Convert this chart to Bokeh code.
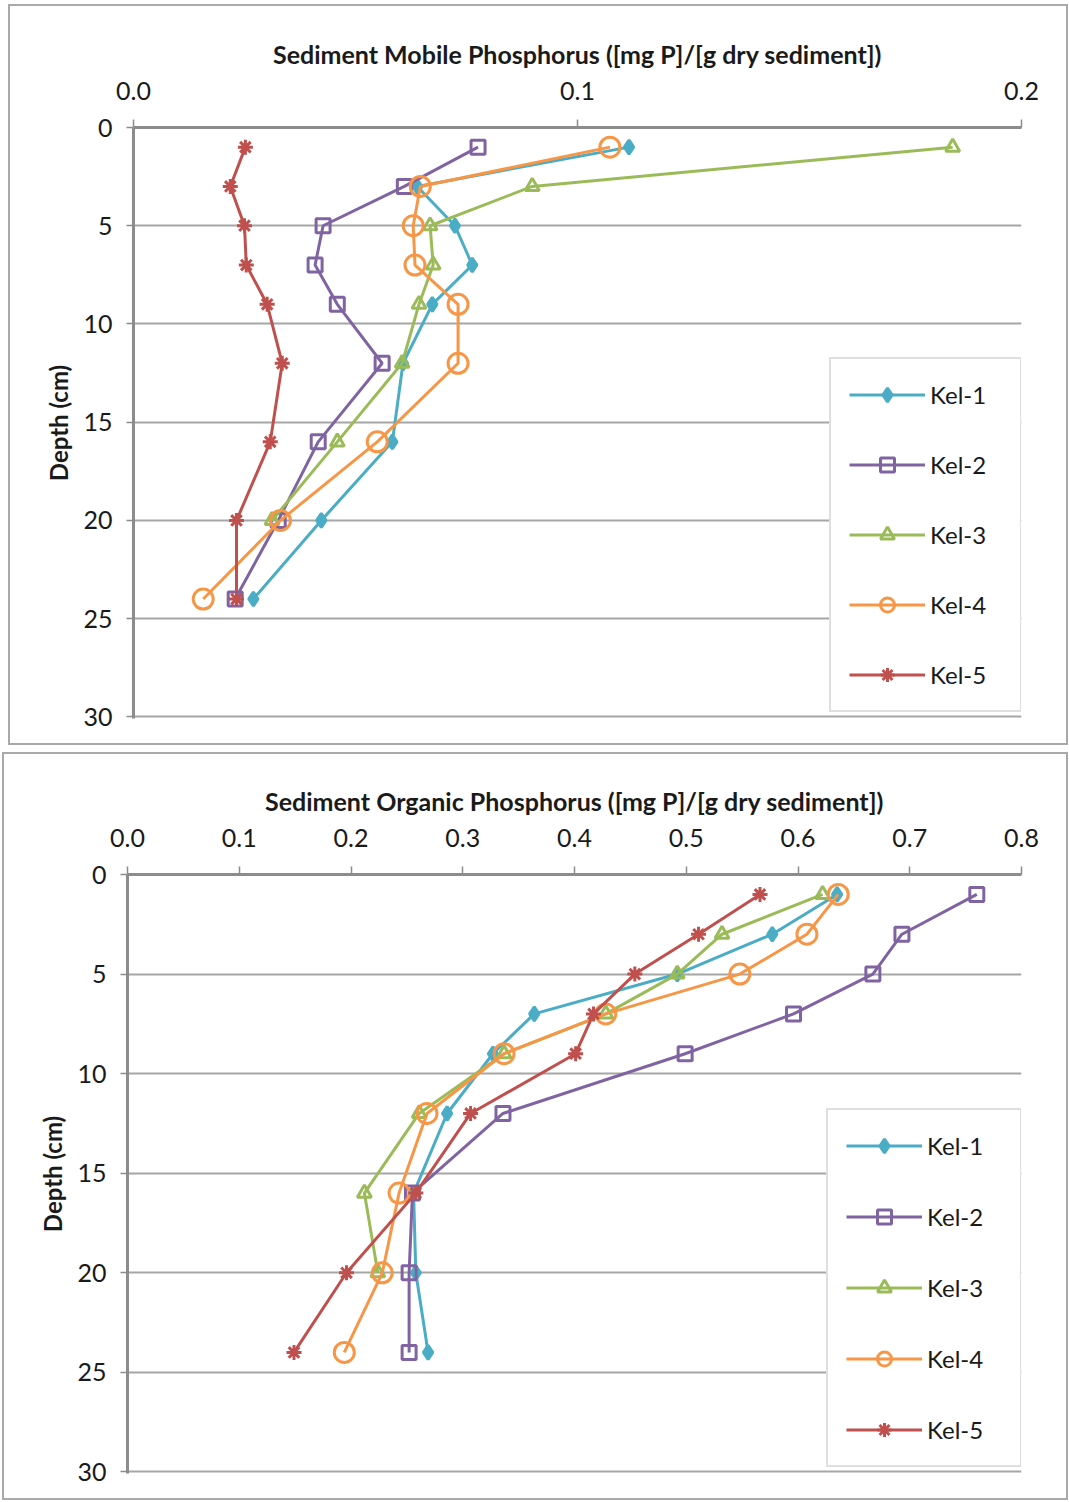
from bokeh.plotting import figure
from bokeh.models import (Range1d, FixedTicker, PrintfTickFormatter, Legend,
                          LegendItem)
from bokeh.layouts import column
from bokeh.embed import file_html
from bokeh.resources import INLINE

# ---------------- data ----------------
series_names = ["Kel-1", "Kel-2", "Kel-3", "Kel-4", "Kel-5"]
depth = [1, 3, 5, 7, 9, 12, 16, 20, 24]
depth_kel3 = [1, 3, 5, 7, 9, 12, 16, 20]

mobile_kel1 = [0.1116, 0.0639, 0.0724, 0.0763, 0.0673, 0.0607, 0.0583, 0.0423, 0.0270]
mobile_kel2 = [0.0776, 0.0610, 0.0427, 0.0409, 0.0459, 0.0560, 0.0416, 0.0326, 0.0229]
mobile_kel3 = [0.1845, 0.0898, 0.0668, 0.0675, 0.0643, 0.0605, 0.0459, 0.0312]
mobile_kel4 = [0.1073, 0.0646, 0.0630, 0.0634, 0.0731, 0.0731, 0.0549, 0.0331, 0.0157]
mobile_kel5 = [0.0252, 0.0218, 0.0250, 0.0254, 0.0301, 0.0335, 0.0308, 0.0232, 0.0232]

organic_kel1 = [0.635, 0.577, 0.492, 0.364, 0.327, 0.286, 0.256, 0.258, 0.269]
organic_kel2 = [0.760, 0.693, 0.667, 0.596, 0.499, 0.336, 0.255, 0.252, 0.252]
organic_kel3 = [0.622, 0.532, 0.492, 0.428, 0.337, 0.261, 0.212, 0.224]
organic_kel4 = [0.636, 0.608, 0.548, 0.428, 0.337, 0.268, 0.243, 0.228, 0.194]
organic_kel5 = [0.566, 0.511, 0.454, 0.417, 0.401, 0.307, 0.258, 0.196, 0.149]

mobile_ticks = [0.0, 0.1, 0.2]
organic_ticks = [0.0, 0.1, 0.2, 0.3, 0.4, 0.5, 0.6, 0.7, 0.8]
depth_ticks = [0, 5, 10, 15, 20, 25, 30]

# ---------------- style ----------------
COLORS = ["#4BACC6", "#8064A2", "#9BBB59", "#F79646", "#C0504D"]
MARKERS = ["diamond", "square", "triangle", "circle", "asterisk"]
SIZES = [14, 14, 14, 20, 15]
FONT = "Lato"
TXT = "#1a1a1a"
AXIS_C = "#8c8c8c"
GRID_C = "#a6a6a6"


def make_panel(title, xmax, xticks, xs_list, ys_list, width, height, frame,
               legend_loc, legend_spacing, legend_label_w, margin):
    left, top, right, bottom = frame
    p = figure(width=width, height=height,
               x_range=Range1d(0, xmax), y_range=Range1d(30.08, 0),
               x_axis_location="above", output_backend="svg",
               toolbar_location=None,
               min_border_left=left, min_border_top=top,
               min_border_right=right, min_border_bottom=bottom)
    p.outline_line_color = None
    p.background_fill_color = "white"
    p.border_fill_color = "white"
    p.styles = {"border": "2px solid #a9a9a9"}
    p.margin = margin

    # axes
    xa = p.xaxis[0]
    xa.ticker = FixedTicker(ticks=xticks)
    xa.formatter = PrintfTickFormatter(format="%.1f")
    xa.axis_label = title
    xa.axis_label_text_font = FONT
    xa.axis_label_text_font_style = "bold"
    xa.axis_label_text_font_size = "25px"
    xa.axis_label_text_color = TXT
    xa.axis_label_standoff = 10
    xa.major_label_text_font = FONT
    xa.major_label_text_font_size = "25px"
    xa.major_label_text_color = TXT
    xa.major_label_standoff = 20
    xa.major_tick_out = 8
    xa.major_tick_in = 0
    xa.minor_tick_out = 0
    xa.minor_tick_in = 0
    xa.axis_line_color = AXIS_C
    xa.axis_line_width = 3
    xa.major_tick_line_color = AXIS_C
    xa.major_tick_line_width = 1.5

    ya = p.yaxis[0]
    ya.ticker = FixedTicker(ticks=depth_ticks)
    ya.axis_label = "Depth (cm)"
    ya.axis_label_text_font = FONT
    ya.axis_label_text_font_style = "bold"
    ya.axis_label_text_font_size = "24px"
    ya.axis_label_text_color = TXT
    ya.axis_label_standoff = 7
    ya.major_label_text_font = FONT
    ya.major_label_text_font_size = "25px"
    ya.major_label_text_color = TXT
    ya.major_label_standoff = 14
    ya.major_tick_out = 7
    ya.major_tick_in = 0
    ya.minor_tick_out = 0
    ya.minor_tick_in = 0
    ya.axis_line_color = AXIS_C
    ya.axis_line_width = 3
    ya.major_tick_line_color = AXIS_C
    ya.major_tick_line_width = 1.5

    p.xgrid.visible = False
    p.ygrid.ticker = FixedTicker(ticks=depth_ticks[1:])
    p.ygrid.grid_line_color = GRID_C
    p.ygrid.grid_line_width = 2

    items = []
    for name, xs, ys, c, m, s in zip(series_names, xs_list, ys_list, COLORS, MARKERS, SIZES):
        lr = p.line(xs, ys, line_color=c, line_width=3)
        filled = (m == "diamond")
        mr = p.scatter(xs, ys, marker=m, size=s, line_color=c, line_width=3,
                       fill_color=c if filled else None,
                       fill_alpha=1.0 if filled else 0.0)
        items.append(LegendItem(label=name, renderers=[lr, mr]))

    leg = Legend(items=items, location=legend_loc)
    leg.label_text_font = FONT
    leg.label_text_font_size = "24px"
    leg.label_text_color = TXT
    leg.glyph_width = 76
    leg.glyph_height = 35
    leg.label_height = 35
    leg.label_width = legend_label_w
    leg.label_standoff = 5
    leg.padding = 18
    leg.spacing = legend_spacing
    leg.margin = 0
    leg.border_line_color = "#bfbfbf"
    leg.border_line_width = 2
    leg.background_fill_color = "white"
    leg.background_fill_alpha = 1.0
    p.add_layout(leg, "center")
    return p


p1 = make_panel("Sediment Mobile Phosphorus ([mg P]/[g dry sediment])", 0.2, mobile_ticks,
                [mobile_kel1, mobile_kel2, mobile_kel3, mobile_kel4, mobile_kel5],
                [depth, depth, depth_kel3, depth, depth],
                1060, 741, (123, 121, 48, 29), (696, 6), 35, 72, (4, 0, 0, 8))
p2 = make_panel("Sediment Organic Phosphorus ([mg P]/[g dry sediment])", 0.8, organic_ticks,
                [organic_kel1, organic_kel2, organic_kel3, organic_kel4, organic_kel5],
                [depth, depth, depth_kel3, depth, depth],
                1066, 748, (123, 120, 49, 29), (699, 6), 36, 75, (7, 0, 0, 2))

layout = column(p1, p2, spacing=0)
open("out.html", "w").write(file_html(layout, INLINE))
